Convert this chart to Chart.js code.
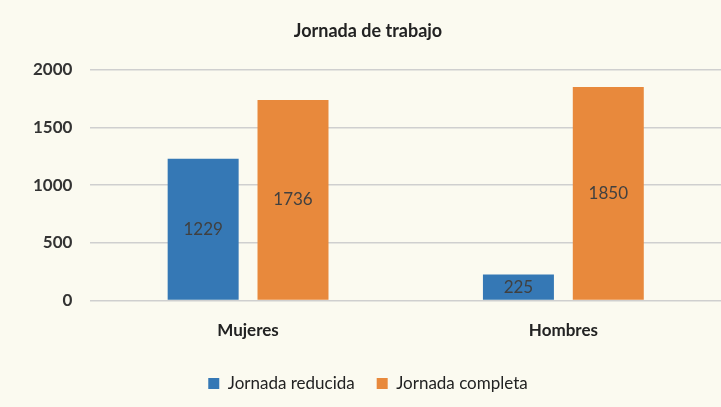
<!DOCTYPE html>
<html>
<head>
<meta charset="utf-8">
<script src="https://cdn.jsdelivr.net/npm/chart.js@4"></script>
<style>
  html, body { margin: 0; padding: 0; background: #fbfaf0; }
  #wrap { width: 721px; height: 407px; }
</style>
</head>
<body>
<div id="wrap"><canvas id="jornadaChart"></canvas></div>
<script>
// datos
const categorias = ['Mujeres', 'Hombres'];
const reducida = [1229, 225];
const completa = [1736, 1850];
const nombresSeries = ['Jornada reducida', 'Jornada completa'];
const ticksY = [0, 500, 1000, 1500, 2000];

// fondo crema
const fondo = {
    id: 'fondo',
    beforeDraw(chart) {
        const c = chart.ctx;
        c.save();
        c.fillStyle = '#fbfaf0';
        c.fillRect(0, 0, chart.width, chart.height);
        c.restore();
    }
};

// etiquetas dentro de las barras
const etiquetas = {
    id: 'etiquetas',
    afterDatasetsDraw(chart) {
        const c = chart.ctx;
        c.save();
        c.font = '17px Lato';
        c.fillStyle = '#404040';
        c.textAlign = 'center';
        c.textBaseline = 'middle';
        chart.data.datasets.forEach((ds, i) => {
            chart.getDatasetMeta(i).data.forEach((bar, j) => {
                const y = (bar.y + bar.base) / 2;
                c.fillText(ds.data[j], bar.x, y);
            });
        });
        c.restore();
    }
};

new Chart(document.getElementById('jornadaChart'), {
    type: 'bar',
    data: {
        labels: categorias,
        datasets: [{
            label: nombresSeries[0],
            data: reducida,
            backgroundColor: '#3578b5',
            categoryPercentage: 0.57,
            barPercentage: 0.79
        }, {
            label: nombresSeries[1],
            data: completa,
            backgroundColor: '#e8893c',
            categoryPercentage: 0.57,
            barPercentage: 0.79
        }]
    },
    options: {
        responsive: true,
        maintainAspectRatio: false,
        animation: false,
        layout: { padding: { left: 15, right: 0, top: 8, bottom: 5 } },
        plugins: {
            title: {
                display: true,
                text: 'Jornada de trabajo',
                color: '#222',
                font: { family: 'Lato', size: 18, weight: 'bold' },
                padding: { top: 12, bottom: 28 }
            },
            legend: {
                position: 'bottom',
                labels: {
                    color: '#222',
                    font: { family: 'Lato', size: 17 },
                    boxWidth: 11,
                    boxHeight: 11,
                    padding: 22
                }
            },
            tooltip: { enabled: false }
        },
        scales: {
            x: {
                grid: { display: false },
                border: { display: false },
                ticks: {
                    color: '#222',
                    font: { family: 'Lato', size: 17, weight: 'bold' },
                    padding: 12
                }
            },
            y: {
                min: 0,
                max: 2000,
                afterBuildTicks(axis) {
                    axis.ticks = ticksY.map(v => ({ value: v }));
                },
                grid: { color: '#cfcfcf', lineWidth: 1.5, drawTicks: false },
                border: { display: false },
                ticks: {
                    color: '#333',
                    font: { family: 'Lato', size: 17, weight: 'bold' },
                    padding: 18,
                    callback: v => String(v)
                }
            }
        }
    },
    plugins: [fondo, etiquetas]
});
</script>
</body>
</html>
